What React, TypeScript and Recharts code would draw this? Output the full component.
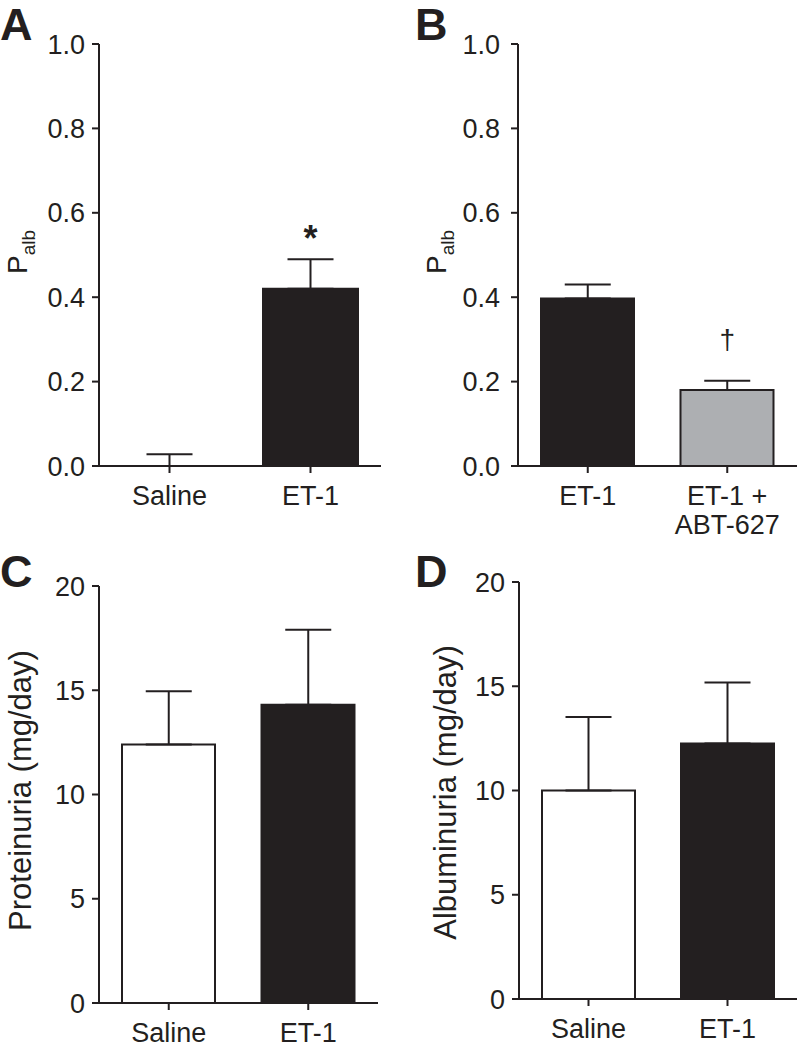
import React from 'react';
import { ComposedChart, Bar, Scatter, XAxis, YAxis, ErrorBar, Cell, ReferenceDot } from 'recharts';

const INK = '#231f20';
const FONT = '"Liberation Sans", Arial, Helvetica, sans-serif';

// Panel A
const catsA = ['Saline', 'ET-1'];
const meanA = [0, 0.42];
const semA = [0.028, 0.07];
const fillA = ['#ffffff', INK];
const marksA = ['', '*'];
const ticksA = [0, 0.2, 0.4, 0.6, 0.8, 1.0];

// Panel B
const catsB = ['ET-1', 'ET-1 +\nABT-627'];
const meanB = [0.397, 0.18];
const semB = [0.033, 0.022];
const fillB = [INK, '#adafb2'];
const marksB = ['', '\u2020'];
const ticksB = [0, 0.2, 0.4, 0.6, 0.8, 1.0];

// Panel C
const catsC = ['Saline', 'ET-1'];
const meanC = [12.4, 14.3];
const semC = [2.55, 3.6];
const fillC = ['#ffffff', INK];
const ticksC = [0, 5, 10, 15, 20];

// Panel D
const catsD = ['Saline', 'ET-1'];
const meanD = [10.0, 12.25];
const semD = [3.52, 2.93];
const fillD = ['#ffffff', INK];
const ticksD = [0, 5, 10, 15, 20];

const build = (cats: string[], mean: number[], sem: number[]) =>
  cats.map((c, i) => ({ cat: c, mean: mean[i], err: [0, sem[i]] }));

const XTick = (props: any) => {
  const { x, y, payload } = props;
  const lines = String(payload.value).split('\n');
  return (
    <g>
      {lines.map((l, i) => (
        <text key={i} x={x} y={y + 32 + i * 29} textAnchor="middle" fontSize={27} fill={INK} fontFamily={FONT}>
          {l}
        </text>
      ))}
    </g>
  );
};

const PalbLabel = (lx: number, dyc: number) => (props: any) => {
  const vb = props.viewBox || {};
  const cy = vb.y + vb.height / 2 + dyc;
  return (
    <text transform={`rotate(-90, ${lx}, ${cy})`} x={lx} y={cy} textAnchor="middle" fill={INK} fontFamily={FONT}>
      <tspan fontSize={28}>P</tspan>
      <tspan fontSize={19} dy={8}>alb</tspan>
    </text>
  );
};

const TextLabel = (text: string, lx: number, dyc: number) => (props: any) => {
  const vb = props.viewBox || {};
  const cy = vb.y + vb.height / 2 + dyc;
  return (
    <text transform={`rotate(-90, ${lx}, ${cy})`} x={lx} y={cy} textAnchor="middle" fill={INK} fontFamily={FONT} fontSize={31}>
      {text}
    </text>
  );
};

const NoPoint = () => <g />;

type PanelProps = {
  left: number;
  top: number;
  width: number;
  height: number;
  margin: { top: number; right: number; bottom: number; left: number };
  xHeight: number;
  data: any[];
  fills: string[];
  domain: [number, number];
  ticks: number[];
  fmt: (v: number) => string;
  yLabel: any;
  barSize: number;
  tickMargin: number;
  marks?: string[];
  markFont?: { size: number; weight: string; dy: number };
};

const Panel = (p: PanelProps) => (
  <div style={{ position: 'absolute', left: p.left, top: p.top, width: p.width, height: p.height }}>
    <ComposedChart width={p.width} height={p.height} data={p.data} margin={p.margin} barSize={p.barSize}>
      <XAxis
        dataKey="cat"
        type="category"
        interval={0}
        height={p.xHeight}
        axisLine={{ stroke: INK, strokeWidth: 2 }}
        tickLine={{ stroke: INK, strokeWidth: 2 }}
        tickSize={7}
        tickMargin={0}
        tick={<XTick />}
      />
      <YAxis
        type="number"
        domain={p.domain}
        ticks={p.ticks}
        width={80}
        interval={0}
        tickFormatter={p.fmt}
        axisLine={{ stroke: INK, strokeWidth: 2 }}
        tickLine={{ stroke: INK, strokeWidth: 2 }}
        tickSize={7}
        tickMargin={p.tickMargin}
        tick={{ fontSize: 27, fill: INK, fontFamily: FONT }}
        label={p.yLabel}
      />
      <Bar dataKey="mean" stroke={INK} strokeWidth={2} isAnimationActive={false}>
        {p.data.map((_, i) => (
          <Cell key={i} fill={p.fills[i]} />
        ))}
      </Bar>
      <Scatter dataKey="mean" shape={<NoPoint />} isAnimationActive={false}>
        <ErrorBar dataKey="err" direction="y" width={23} stroke={INK} strokeWidth={2} isAnimationActive={false} />
      </Scatter>
      {p.marks &&
        p.marks.map((m, i) =>
          m ? (
            <ReferenceDot
              key={'m' + i}
              x={p.data[i].cat}
              y={p.data[i].mean + p.data[i].err[1]}
              r={0}
              ifOverflow="visible"
              shape={(sp: any) => (
                <text
                  x={sp.cx}
                  y={sp.cy - p.markFont!.dy}
                  textAnchor="middle"
                  fontSize={p.markFont!.size}
                  fontWeight={p.markFont!.weight}
                  fill={INK}
                  fontFamily={FONT}
                >
                  {m}
                </text>
              )}
            />
          ) : null
        )}
    </ComposedChart>
  </div>
);

const f1 = (v: number) => v.toFixed(1);
const f0 = (v: number) => String(v);

export default function App() {
  return (
    <div style={{ position: 'absolute', left: 0, top: 0, width: 802, height: 1050, background: '#ffffff' }}>
      <Panel
        left={0}
        top={0}
        width={400}
        height={540}
        margin={{ top: 44, right: 19, bottom: 4, left: 19 }}
        xHeight={70}
        data={build(catsA, meanA, semA)}
        fills={fillA}
        domain={[0, 1]}
        ticks={ticksA}
        fmt={f1}
        yLabel={PalbLabel(27, -3)}
        barSize={95}
        tickMargin={7}
        marks={marksA}
        markFont={{ size: 36, weight: 'bold', dy: 8 }}
      />
      <Panel
        left={400}
        top={0}
        width={402}
        height={540}
        margin={{ top: 44, right: 5, bottom: 4, left: 38 }}
        xHeight={70}
        data={build(catsB, meanB, semB)}
        fills={fillB}
        domain={[0, 1]}
        ticks={ticksB}
        fmt={f1}
        yLabel={PalbLabel(46, -3)}
        barSize={93}
        tickMargin={11}
        marks={marksB}
        markFont={{ size: 28, weight: 'normal', dy: 32 }}
      />
      <Panel
        left={0}
        top={540}
        width={400}
        height={510}
        margin={{ top: 46, right: 22, bottom: 7, left: 19 }}
        xHeight={40}
        data={build(catsC, meanC, semC)}
        fills={fillC}
        domain={[0, 20]}
        ticks={ticksC}
        fmt={f0}
        yLabel={TextLabel('Proteinuria (mg/day)', 31, -4)}
        barSize={93}
        tickMargin={7}
      />
      <Panel
        left={400}
        top={540}
        width={402}
        height={510}
        margin={{ top: 42, right: 5, bottom: 11, left: 39 }}
        xHeight={40}
        data={build(catsD, meanD, semD)}
        fills={fillD}
        domain={[0, 20]}
        ticks={ticksD}
        fmt={f0}
        yLabel={TextLabel('Albuminuria (mg/day)', 56, 2)}
        barSize={93}
        tickMargin={7}
      />
      <svg width={802} height={1050} style={{ position: 'absolute', left: 0, top: 0, pointerEvents: 'none' }}>
        <text x={0} y={40} fontSize={45} fontWeight="bold" fill={INK} fontFamily={FONT}>A</text>
        <text x={415} y={40} fontSize={45} fontWeight="bold" fill={INK} fontFamily={FONT}>B</text>
        <text x={0} y={587} fontSize={45} fontWeight="bold" fill={INK} fontFamily={FONT}>C</text>
        <text x={415} y={587} fontSize={45} fontWeight="bold" fill={INK} fontFamily={FONT}>D</text>
      </svg>
    </div>
  );
}
